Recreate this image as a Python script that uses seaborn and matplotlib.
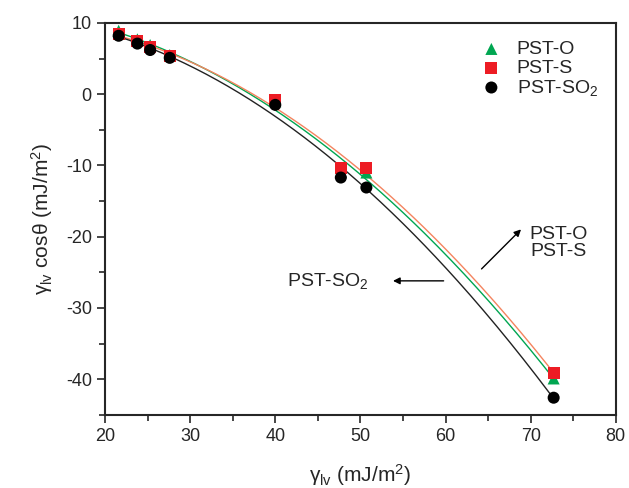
import numpy as np
import pandas as pd
import matplotlib
matplotlib.use('Agg')
import matplotlib.pyplot as plt
import seaborn as sns

# surface tension of test liquids and measured values
gamma_lv = [21.6, 23.8, 25.3, 27.6, 40.0, 47.7, 50.7, 72.7]
pst_o = [8.9, 7.7, 6.9, 5.5, -1.0, -10.9, -11.0, -39.9]
pst_s = [8.5, 7.4, 6.6, 5.3, -0.8, -10.3, -10.3, -39.1]
pst_so2 = [8.2, 7.1, 6.2, 5.1, -1.5, -11.7, -13.1, -42.6]

series = ['PST-O', 'PST-S', 'PST-SO$_2$']
values = [pst_o, pst_s, pst_so2]
marker_colors = ['#00a651', '#ed1c24', '#000000']
line_colors = ['#00a651', '#f4845f', '#222222']
markers = ['^', 's', 'o']

sns.set_theme(style='ticks')
plt.rcParams['font.family'] = ['Liberation Sans', 'DejaVu Sans']
plt.rcParams['mathtext.fontset'] = 'custom'
plt.rcParams['mathtext.rm'] = 'Liberation Sans'
plt.rcParams['mathtext.it'] = 'Liberation Sans:italic'
plt.rcParams['axes.unicode_minus'] = False

fig = plt.figure(figsize=(6.29, 4.88), dpi=100)
ax = fig.add_axes([0.167, 0.150, 0.812, 0.803])

# quadratic fits drawn first
xs = np.linspace(min(gamma_lv), max(gamma_lv), 200)
for name, ys, lc in zip(series, values, line_colors):
    coef = np.polyfit(gamma_lv, ys, 2)
    sns.lineplot(x=xs, y=np.polyval(coef, xs), color=lc, lw=1.0, ax=ax, legend=False)

for name, ys, mc, mk in zip(series, values, marker_colors, markers):
    df = pd.DataFrame({'x': gamma_lv, 'y': ys})
    sns.scatterplot(data=df, x='x', y='y', marker=mk, color=mc, s=75,
                    edgecolor='none', label=name, ax=ax, zorder=3)

ax.set_xlim(20, 80)
ax.set_ylim(-45, 10)
ax.set_xticks([20, 30, 40, 50, 60, 70, 80])
ax.set_yticks([10, 0, -10, -20, -30, -40])
ax.set_xticks(np.arange(25, 80, 10), minor=True)
ax.set_yticks(np.arange(-45, 10, 10), minor=True)
ax.tick_params(which='major', direction='out', length=6, width=1.2, labelsize=13)
ax.tick_params(which='minor', direction='out', length=4, width=1.2)
for sp in ax.spines.values():
    sp.set_linewidth(1.5)
    sp.set_visible(True)

ax.set_xlabel(r'$\mathregular{\gamma_{lv}}$ (mJ/m$^{2}$)', fontsize=15, labelpad=12)
ax.set_ylabel(r'$\mathregular{\gamma_{lv}}$ cos$\mathregular{\theta}$ (mJ/m$^{2}$)', fontsize=15, labelpad=8)

leg = ax.legend(loc='upper right', frameon=False, fontsize=14, handletextpad=0.3,
                labelspacing=0.05, borderaxespad=0.5, markerscale=1.0)

# arrows and labels for the curves
ax.annotate('', xy=(69.1, -18.7), xytext=(64.0, -24.8),
            arrowprops=dict(arrowstyle='-|>', color='black', lw=1.0, mutation_scale=10))
ax.text(73.3, -20.9, 'PST-O\nPST-S', ha='center', va='center', fontsize=14, linespacing=1.05)
ax.annotate('', xy=(53.5, -26.2), xytext=(60.1, -26.2),
            arrowprops=dict(arrowstyle='-|>', color='black', lw=1.0, mutation_scale=10))
ax.text(46.2, -26.2, 'PST-SO$_2$', ha='center', va='center', fontsize=14)

fig.savefig('out.png', dpi=100)
